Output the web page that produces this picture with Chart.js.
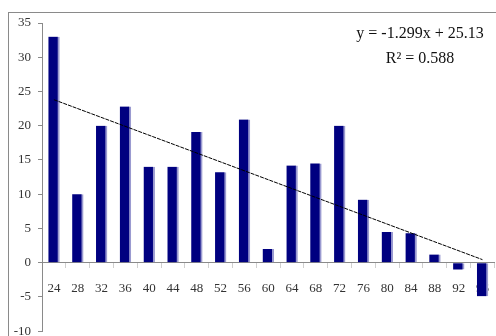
<!DOCTYPE html>
<html>
<head>
<meta charset="utf-8">
<script src="https://cdn.jsdelivr.net/npm/chart.js@4/dist/chart.umd.min.js"></script>
<style>
  html, body { margin: 0; padding: 0; background: #fff; overflow: hidden; }
  #wrap { position: relative; width: 496px; height: 336px; overflow: hidden; }
  #frame { position: absolute; left: 8px; top: 12px; width: 600px; height: 400px;
           border-top: 1px solid #8a8a8a; border-left: 1px solid #8a8a8a; }
  #box { position: absolute; left: 0; top: 0; width: 502px; height: 346px; }
  #eq { position: absolute; left: 340px; top: 20px; width: 160px; text-align: center;
        font-family: 'Liberation Serif', serif; font-size: 16px; line-height: 25px; color: #111; }
</style>
</head>
<body>
<div id="wrap">
  <div id="frame"></div>
  <div id="box"><canvas id="chart"></canvas></div>
  <div id="eq">y = -1.299x + 25.13<br>R² = 0.588</div>
</div>
<script>
// categories and values
const categories = ['24', '28', '32', '36', '40', '44', '48', '52', '56', '60',
                    '64', '68', '72', '76', '80', '84', '88', '92', '96'];
const values = [33.0, 10.0, 20.0, 22.8, 14.0, 14.0, 19.1, 13.2, 20.9, 2.0,
                14.2, 14.5, 20.0, 9.2, 4.5, 4.3, 1.2, -1.0, -4.9];
// linear trend line end points (y = -1.299x + 25.13)
const trendValues = [23.8, null, null, null, null, null, null, null, null, null,
                     null, null, null, null, null, null, null, null, 0.45];
const yTicks = [-10, -5, 0, 5, 10, 15, 20, 25, 30, 35];

const tickFont = { family: "'Liberation Serif', serif", size: 13 };

const ctx = document.getElementById('chart').getContext('2d');
new Chart(ctx, {
  data: {
    labels: categories,
    datasets: [{
      type: 'line',
      data: trendValues,
      borderColor: '#000',
      borderWidth: 1,
      borderDash: [4, 1],
      pointRadius: 0,
      spanGaps: true,
      fill: false,
      order: 0
    }, {
      type: 'bar',
      data: values,
      backgroundColor: '#000080',
      borderColor: '#9a9ad0',
      borderWidth: { top: 0, right: 2, bottom: 0, left: 0 },
      borderSkipped: false,
      barThickness: 11,
      order: 1
    }]
  },
  options: {
    responsive: true,
    maintainAspectRatio: false,
    animation: false,
    layout: { padding: { left: 8, top: 23, right: 2, bottom: 0 } },
    plugins: {
      legend: { display: false },
      tooltip: { enabled: false }
    },
    scales: {
      x: {
        position: { y: 0 },
        offset: true,
        grid: {
          offset: true,
          drawOnChartArea: false,
          drawTicks: true,
          tickLength: 5,
          color: '#d0d0d0'
        },
        border: { display: true, color: '#8a8a8a', width: 1 },
        ticks: {
          font: tickFont,
          color: '#333',
          padding: 13,
          maxRotation: 0,
          autoSkip: false
        }
      },
      y: {
        min: -10,
        max: 35,
        afterFit: function (scale) { scale.width = 34; },
        afterBuildTicks: function (scale) {
          scale.ticks = yTicks.map(v => ({ value: v }));
        },
        grid: {
          drawOnChartArea: false,
          drawTicks: true,
          tickLength: 4,
          color: '#8a8a8a'
        },
        border: { display: true, color: '#8a8a8a', width: 1 },
        ticks: {
          font: tickFont,
          color: '#333',
          padding: 7
        }
      }
    }
  }
});
</script>
</body>
</html>
